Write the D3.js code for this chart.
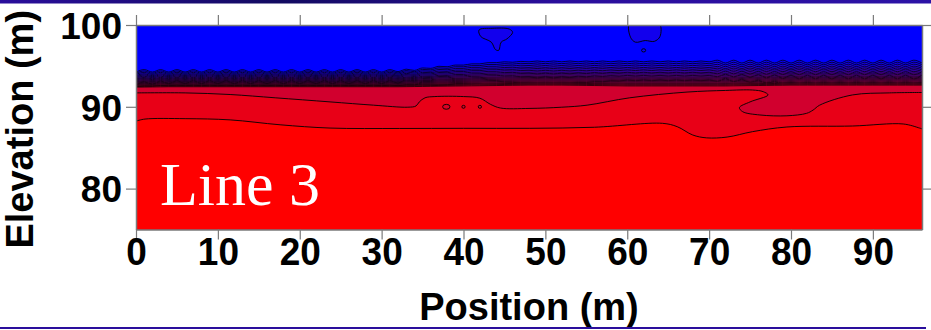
<!DOCTYPE html>
<html>
<head>
<meta charset="utf-8">
<script src="https://cdn.jsdelivr.net/npm/d3@7"></script>
<style>
  body { margin: 0; background: #fff; }
  svg { display: block; }
</style>
</head>
<body>
<svg id="chart" width="931" height="330"></svg>
<script>
// ---- data (position m, elevation m) ----
const xTicks = [0, 10, 20, 30, 40, 50, 60, 70, 80, 90];
const yTicks = [80, 90, 100];

// first contour under the pure blue layer, every metre (scalloped)
const blueBasePos = d3.range(0, 97);
const blueBase = [
  94.25, 94.55, 94.25, 94.55, 94.25, 94.55, 94.25, 94.55, 94.25, 94.55, 94.25, 94.55, 94.25, 94.55, 94.25, 94.55,
  94.25, 94.55, 94.25, 94.55, 94.25, 94.55, 94.25, 94.55, 94.25, 94.55, 94.25, 94.55, 94.25, 94.55, 94.25, 94.55,
  94.3, 94.6, 94.45, 94.75, 94.7, 94.95, 94.9, 95.1, 95.1, 95.25, 95.25, 95.4, 95.4, 95.5, 95.45, 95.55, 95.5,
  95.6, 95.5, 95.6, 95.5, 95.6, 95.5, 95.6, 95.5, 95.6, 95.5, 95.6, 95.5, 95.6, 95.5, 95.6, 95.5, 95.6, 95.5, 95.6, 95.5, 95.6, 95.5,
  95.7, 95.35, 95.7, 95.35, 95.7, 95.35, 95.7, 95.35, 95.7, 95.35, 95.7, 95.35, 95.7, 95.35, 95.7, 95.35, 95.7, 95.35, 95.7, 95.35,
  95.7, 95.35, 95.7, 95.35, 95.7, 95.35
];
// last contour of the dense transition zone
const transitionPos = [0, 4, 8, 12, 16, 20, 24, 28, 32, 36, 40, 44, 48, 52, 56, 60, 64, 68, 72, 76, 80, 84, 88, 92, 96];
const transitionBase = [92.4, 92.45, 92.45, 92.45, 92.45, 92.45, 92.45, 92.45, 92.45, 92.5, 92.55, 92.6, 92.65, 92.65, 92.6, 92.55, 92.55, 92.55, 92.55, 92.6, 92.65, 92.65, 92.65, 92.65, 92.65];
// relative depth of each contour inside the transition zone and its level (0 = blue, 1 = red)
const transitionDepth = [0, 0.08, 0.16, 0.24, 0.31, 0.38, 0.45, 0.51, 0.57, 0.63, 0.68, 0.73, 0.78, 0.83, 0.88, 0.92, 0.96, 1];
const transitionLevel = [0.04, 0.08, 0.12, 0.16, 0.2, 0.25, 0.3, 0.35, 0.4, 0.45, 0.5, 0.55, 0.6, 0.65, 0.7, 0.74, 0.78, 0.82];

// contour between crimson band and lower band (traced as a path, folds back twice)
const lineB = [[0, 91.7], [6, 91.7], [11.5, 91.5], [17, 91.1], [23.7, 90.6], [29, 90.2], [33.2, 89.95], [34.2, 90.1],
  [34.6, 90.6], [35.3, 91.1], [36.5, 91.25], [40, 91.25], [42, 91.05], [43.3, 90.3], [44.5, 89.85], [48, 89.8],
  [52, 89.95], [55.1, 90.2], [60.3, 91.1], [67.3, 91.8], [72, 92.0], [75.3, 92.05],
  [76.6, 91.85], [77.2, 91.45], [75, 90.6], [73.7, 89.9], [74.1, 89.4], [76.2, 89.0], [79.5, 88.9], [81.9, 89.2],
  [82.7, 89.6], [83.5, 90.2], [87.5, 91.45], [92, 91.7], [96, 91.75]];
const lineBLevel = 0.91;
// contour above the pure red region
const lineC = [[0, 88.25], [1.1, 88.5], [6, 88.55], [11.5, 88.4], [17.6, 87.8], [23.7, 87.4], [32.2, 87.35], [40, 87.37], [48.1, 87.37],
  [56, 87.5], [64.3, 87.98], [66.1, 87.57], [68, 86.55], [69.7, 86.2], [72.2, 86.3], [75.3, 86.96], [79.5, 87.53],
  [87.5, 87.65], [93.7, 87.9], [95.7, 87.4], [96, 87.3]];
const lineCLevel = 1;

// small closed contours
const lobeA = [[41.9, 99.4], [43.5, 99.6], [45.6, 99.5], [46.0, 99.1], [45.3, 98.3], [44.6, 97.9], [44.3, 96.9], [43.9, 97.0], [43.4, 97.9], [42.1, 98.6]];
const lobeB = [[60.3, 100.2], [63.9, 100.2], [64.0, 98.6], [63.3, 98.0], [62.2, 98.1], [61.0, 97.9], [60.4, 98.5]];
const lobeLevel = 0.07;
// [position, elevation, half-width m, half-height m, level]
const dots = [[37.9, 90.0, 0.45, 0.3, 0.86], [40.0, 90.0, 0.2, 0.18, 0.86], [42.0, 90.0, 0.2, 0.18, 0.86], [62.0, 96.9, 0.25, 0.2, 0.04]];

const svg = d3.select('#chart');
const W = 931, H = 330;
const margin = { left: 136, top: 25, right: 9, bottom: 100.5 };
const plotW = W - margin.left - margin.right;
const plotH = H - margin.top - margin.bottom;

const x = d3.scaleLinear().domain([0, 96]).range([margin.left, margin.left + plotW]);
const y = d3.scaleLinear().domain([75, 100]).range([margin.top + plotH, margin.top]);
const color = d3.interpolateRgb('#0000ff', '#ff0000');
const transitionAt = d3.scaleLinear().domain(transitionPos).range(transitionBase);

// top banner and bottom rule
const defs = svg.append('defs');
const grad = defs.append('linearGradient').attr('id', 'band');
grad.append('stop').attr('offset', '0%').attr('stop-color', '#2a0e9c');
grad.append('stop').attr('offset', '30%').attr('stop-color', '#120a60');
grad.append('stop').attr('offset', '60%').attr('stop-color', '#2a0e9c');
grad.append('stop').attr('offset', '100%').attr('stop-color', '#2c12a6');
svg.append('rect').attr('x', 0).attr('y', 0).attr('width', W).attr('height', 3.5).attr('fill', 'url(#band)');

defs.append('clipPath').attr('id', 'plot')
  .append('rect').attr('x', x(0)).attr('y', y(100)).attr('width', plotW).attr('height', plotH);

const g = svg.append('g').attr('clip-path', 'url(#plot)');

// base blue layer
g.append('rect').attr('x', x(0)).attr('y', y(100)).attr('width', plotW).attr('height', plotH).attr('fill', color(0));

const area = d3.area().curve(d3.curveMonotoneX).x(d => x(d[0])).y0(y(74)).y1(d => y(d[1]));
const line = d3.line().curve(d3.curveMonotoneX).x(d => x(d[0])).y(d => y(d[1]));
const strokeW = 0.75;

// transition zone contours
transitionDepth.forEach((f, k) => {
  const pts = blueBasePos.map((p, i) => [p, blueBase[i] + (transitionAt(p) - blueBase[i]) * f]);
  g.append('path').attr('d', area(pts)).attr('fill', color(transitionLevel[k]));
  g.append('path').attr('d', line(pts)).attr('fill', 'none').attr('stroke', '#000').attr('stroke-width', strokeW);
});

// traced contours (may fold back, so close the polygon through the bottom corners)
const path = d3.line().curve(d3.curveCatmullRom.alpha(0.5)).x(d => x(d[0])).y(d => y(d[1]));
function traced(pts, level) {
  g.append('path').attr('d', path(pts) + 'L' + x(96.5) + ',' + y(74) + 'L' + x(-0.5) + ',' + y(74) + 'Z')
    .attr('fill', color(level));
  g.append('path').attr('d', path(pts)).attr('fill', 'none').attr('stroke', '#000').attr('stroke-width', strokeW + 0.15);
}
traced(lineB, lineBLevel);
traced(lineC, lineCLevel);

const closed = d3.line().curve(d3.curveCatmullRomClosed.alpha(0.5)).x(d => x(d[0])).y(d => y(d[1]));
[lobeA, lobeB].forEach(pts => {
  g.append('path').attr('d', closed(pts)).attr('fill', color(lobeLevel)).attr('stroke', '#000').attr('stroke-width', strokeW + 0.15);
});
const k = x(1) - x(0);
g.selectAll('ellipse.dot').data(dots).join('ellipse')
  .attr('cx', d => x(d[0])).attr('cy', d => y(d[1]))
  .attr('rx', d => d[2] * k).attr('ry', d => d[3] * k)
  .attr('fill', d => color(d[4])).attr('stroke', '#000').attr('stroke-width', strokeW + 0.15);

// label inside the plot
svg.append('text').attr('x', 160).attr('y', 205)
  .attr('font-family', '"Liberation Serif", "Times New Roman", serif')
  .attr('font-size', 62).attr('fill', '#fff').text('Line 3');

// axes on all four sides
const axisColor = '#7a7a7a';
function styleAxis(sel, size) {
  sel.selectAll('path.domain').attr('stroke', axisColor).attr('stroke-width', 1.5);
  sel.selectAll('.tick line').attr('stroke', axisColor).attr('stroke-width', 1.2);
  sel.selectAll('.tick text').attr('fill', '#000')
    .attr('font-family', '"Liberation Sans", Arial, sans-serif')
    .attr('font-weight', 'bold').attr('font-size', size || 37);
}
// bottom labels are slightly taller in the original, stretch them a little
svg.append('g').attr('transform', `translate(0,${y(75)})`)
  .call(d3.axisBottom(x).tickValues(xTicks).tickSize(10).tickSizeOuter(0))
  .call(styleAxis, 37)
  .call(s => s.selectAll('.tick text').attr('y', 0).attr('dy', 0)
    .attr('transform', 'translate(0,35.5) scale(1,1.07)'));
svg.append('g').attr('transform', `translate(0,${y(100)})`)
  .call(d3.axisTop(x).tickValues(xTicks).tickSize(10).tickSizeOuter(0).tickFormat(''))
  .call(styleAxis);
svg.append('g').attr('transform', `translate(${x(0)},0)`)
  .call(d3.axisLeft(y).tickValues(yTicks).tickSize(10).tickSizeOuter(0).tickPadding(4))
  .call(styleAxis, 37)
  .call(s => s.selectAll('.tick text').attr('dy', '0.36em'));
svg.append('g').attr('transform', `translate(${x(96)},0)`)
  .call(d3.axisRight(y).tickValues(yTicks).tickSize(10).tickSizeOuter(0).tickFormat(''))
  .call(styleAxis);

// axis titles
svg.append('text').attr('x', (x(0) + x(96)) / 2).attr('y', 320)
  .attr('text-anchor', 'middle')
  .attr('font-family', '"Liberation Sans", Arial, sans-serif')
  .attr('font-weight', 'bold').attr('font-size', 38).text('Position (m)');
svg.append('text').attr('transform', `translate(33,${(y(75) + y(100)) / 2 + 2}) rotate(-90)`)
  .attr('text-anchor', 'middle')
  .attr('font-family', '"Liberation Sans", Arial, sans-serif')
  .attr('font-weight', 'bold').attr('font-size', 38).text('Elevation (m)');

svg.append('rect').attr('x', 0).attr('y', 327).attr('width', 926).attr('height', 2).attr('fill', '#2a0e9c');
</script>
</body>
</html>
